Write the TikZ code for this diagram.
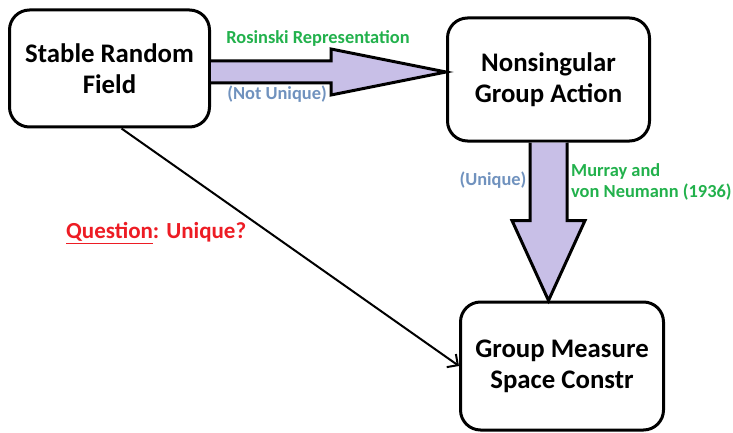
\documentclass[tikz,border=0pt]{standalone}
\usepackage{fontspec}
\setmainfont{Carlito}
\usepackage{xcolor}
\usepackage{tikz}
\usetikzlibrary{arrows.meta, calc}
\definecolor{paintgreen}{HTML}{22B14C}
\definecolor{bluegray}{HTML}{7092BE}
\definecolor{paintred}{HTML}{ED1C24}
\definecolor{lavender}{HTML}{C8BFE7}

\begin{document}
\begin{tikzpicture}[x=1pt,y=-1pt,
    box/.style     = {draw, line width=3pt, rounded corners=20pt,
      align=center, inner sep=0pt,
      font=\bfseries\fontsize{26.8}{31}\selectfont},
    fatarrow/.style = {draw, line width=3pt, fill=lavender,
      line join=miter},
    note/.style    = {inner sep=0pt,
      font=\bfseries\fontsize{18.4}{21}\selectfont},
  ]
  \useasboundingbox (0,0) rectangle (733,433);

  \node[box,minimum width=200pt,minimum height=117pt] (srf) at (109.5,68.5) {Stable Random\\Field};
  \node[box,minimum width=202pt,minimum height=123pt] (nga) at (548.5,79.5) {Nonsingular\\Group Action};
  \node[box,minimum width=203pt,minimum height=128pt] (gms) at (562,366) {Group Measure\\Space Constr};

  % fat arrows
  \coordinate (rtip) at ([yshift=7.5pt]nga.west);
  \draw[fatarrow] ($(srf.east|-rtip)+(0,-11)$) -- ++(120,0) -- ++(0,-12) -- (rtip)
    -- ($(srf.east|-rtip)+(120,23)$) -- ++(0,-12) -- ($(srf.east|-rtip)+(0,11)$);
  \coordinate (dtip) at (nga.south |- gms.north);
  \draw[fatarrow] ($(nga.south)+(-18.5,0)$) -- ++(0,78) -- ++(-18,0) -- (dtip)
    -- ($(nga.south)+(36.5,78)$) -- ++(-18,0) -- ($(nga.south)+(18.5,0)$);

  \draw[line width=2pt,-{Straight Barb[length=8pt,width=16pt]}] ([xshift=12pt]srf.south) -- (gms.west);

  % labels
  \node[note,text=paintgreen] (rosinski) at (318,38) {Rosinski Representation};
  \node[note,text=bluegray] (notunique) at (277,94) {(Not Unique)};
  \node[note,text=bluegray] (unique) at (493,180) {(Unique)};
  \node[note,text=paintgreen,anchor=west,align=left] (murray) at (571,181.5) {Murray and\\von Neumann (1936)};
  \node[inner sep=0pt,anchor=west,text=paintred,
    font=\bfseries\fontsize{23}{27}\selectfont] (question) at (66,233) {\underline{Question}: Unique?};
\end{tikzpicture}
\end{document}
